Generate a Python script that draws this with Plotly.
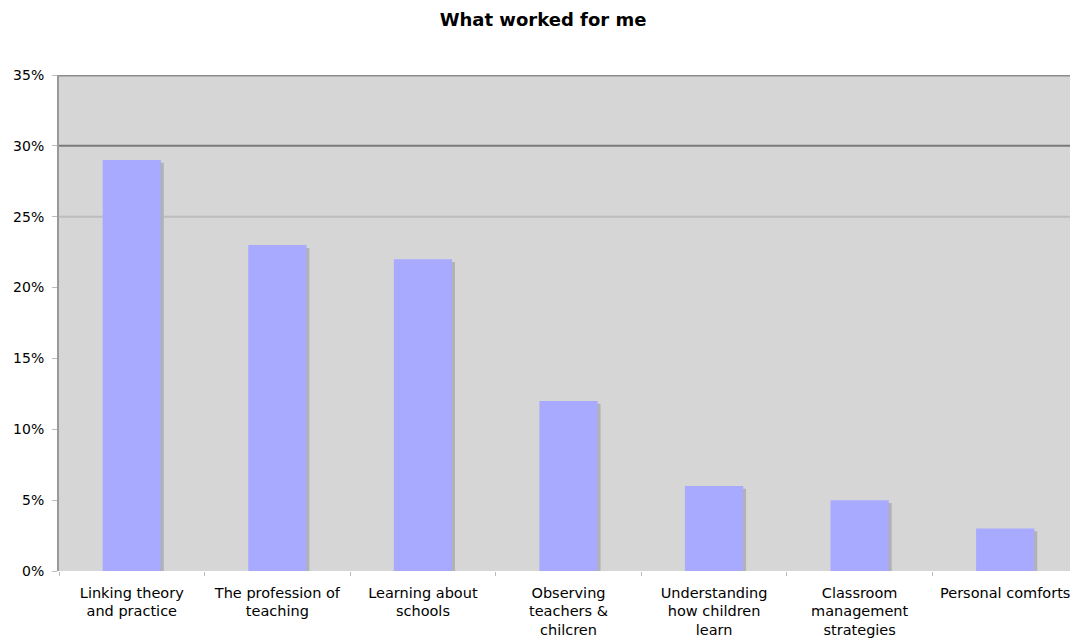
import plotly.graph_objects as go

categories = [
    "Linking theory<br>and practice",
    "The profession of<br>teaching",
    "Learning about<br>schools",
    "Observing<br>teachers &<br>chilcren",
    "Understanding<br>how children<br>learn",
    "Classroom<br>management<br>strategies",
    "Personal comforts",
]
values = [29, 23, 22, 12, 6, 5, 3]
y_ticks = [0, 5, 10, 15, 20, 25, 30, 35]
y_labels = ["0%", "5%", "10%", "15%", "20%", "25%", "30%", "35%"]

FONT = "DejaVu Sans"

fig = go.Figure()
# drop shadow
fig.add_trace(go.Bar(
    x=categories, y=[v - 0.2 for v in values],
    width=0.4, offset=-0.18,
    marker=dict(color="#b2b2b2", line=dict(width=0)),
    hoverinfo="skip", showlegend=False,
))
fig.add_trace(go.Bar(
    x=categories, y=values,
    width=0.4, offset=-0.2,
    marker=dict(color="#a8aaff", line=dict(width=0)),
    showlegend=False,
))

fig.add_hline(y=25, line=dict(color="#bdbdbd", width=2), layer="below")
fig.add_hline(y=30, line=dict(color="#7a7a7a", width=2), layer="below")
fig.add_hline(y=35, line=dict(color="#8c8c8c", width=3), layer="below")

fig.update_layout(
    width=1070, height=634,
    margin=dict(l=51, r=0, t=67, b=71, autoexpand=False),
    paper_bgcolor="white",
    plot_bgcolor="#d6d6d6",
    barmode="overlay",
    title=dict(text="<b>What worked for me</b>", x=0.5, xanchor="center",
               y=0.981, yanchor="middle", automargin=False,
               font=dict(family=FONT, size=18, color="black")),
    font=dict(family=FONT, size=14, color="black"),
    xaxis=dict(
        type="category",
        range=[-0.5, 6.5],
        automargin=False,
        showgrid=False, zeroline=False, showline=False,
        ticks="outside", tickson="boundaries", ticklen=4,
        tickcolor="#bbbbbb", tickwidth=1,
        ticklabelstandoff=11,
        tickfont=dict(family=FONT, size=14.5, color="black"),
    ),
    yaxis=dict(
        range=[0, 35],
        automargin=False,
        tickvals=y_ticks, ticktext=y_labels,
        showgrid=False, zeroline=False,
        showline=True, linecolor="#999999", linewidth=2,
        ticks="outside", ticklen=5, tickcolor="#bbbbbb", tickwidth=1,
        ticklabelstandoff=5,
        tickfont=dict(family=FONT, size=14, color="black"),
    ),
)

fig.write_html("out.html")
